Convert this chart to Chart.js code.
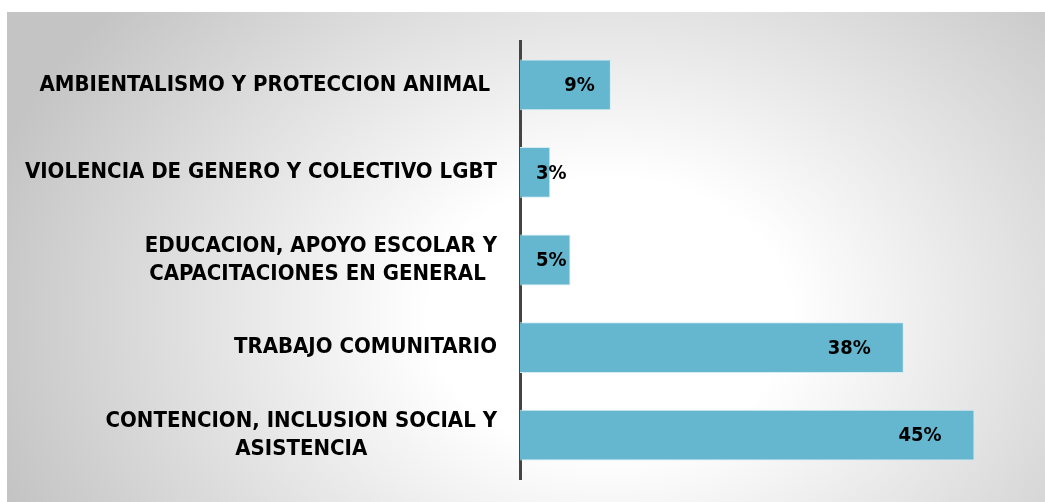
<!DOCTYPE html>
<html>
<head>
<meta charset="utf-8">
<script src="https://cdn.jsdelivr.net/npm/chart.js@4.4.1/dist/chart.umd.min.js"></script>
<style>
    html, body { margin: 0; padding: 0; background: #fff; }
    #wrap { position: relative; width: 1045px; height: 502px; }
    #bg {
        position: absolute; left: 7px; top: 12px; right: 0; bottom: 0;
        background: radial-gradient(ellipse 62% 100% at 58% 62%, #ffffff 28%, #c4c4c4 100%);
    }
    canvas { position: absolute; left: 0; top: 0; }
</style>
</head>
<body>
<div id="wrap">
    <div id="bg"></div>
    <canvas id="chart" width="1045" height="502"></canvas>
</div>
<script>
// Data
const categories = [
    ['AMBIENTALISMO Y PROTECCION ANIMAL '],
    ['VIOLENCIA DE GENERO Y COLECTIVO LGBT'],
    ['EDUCACION, APOYO ESCOLAR Y', 'CAPACITACIONES EN GENERAL '],
    ['TRABAJO COMUNITARIO'],
    ['CONTENCION, INCLUSION SOCIAL Y', 'ASISTENCIA']
];
const values = [9, 3, 5, 38, 45];
const valueLabels = ['9%', '3%', '5%', '38%', '45%'];

const LABEL_FONT = 'bold 22px "DejaVu Sans Condensed", "DejaVu Sans", sans-serif';
const VALUE_FONT = 'bold 20px "DejaVu Sans Condensed", "DejaVu Sans", sans-serif';

// category labels: block right-aligned, lines centered inside block
const categoryLabels = {
    id: 'categoryLabels',
    afterDraw(chart) {
        const ctx = chart.ctx;
        const yScale = chart.scales.y;
        const right = chart.chartArea.left - 23;
        const lineH = 28;
        ctx.save();
        ctx.font = LABEL_FONT;
        ctx.fillStyle = '#000';
        ctx.textAlign = 'center';
        ctx.textBaseline = 'middle';
        categories.forEach((lines, i) => {
            const w = Math.max(...lines.map(l => ctx.measureText(l).width));
            const cx = right - w / 2;
            const cy = yScale.getPixelForValue(i);
            lines.forEach((l, j) => {
                ctx.fillText(l, cx, cy + (j - (lines.length - 1) / 2) * lineH);
            });
        });
        ctx.restore();
    }
};

// value labels inside bar ends
const valueLabelPlugin = {
    id: 'valueLabels',
    afterDatasetsDraw(chart) {
        const ctx = chart.ctx;
        const meta = chart.getDatasetMeta(0);
        ctx.save();
        ctx.font = VALUE_FONT;
        ctx.fillStyle = '#000';
        ctx.textAlign = 'left';
        ctx.textBaseline = 'middle';
        meta.data.forEach((bar, i) => {
            const txt = valueLabels[i];
            const w = ctx.measureText(txt).width;
            const len = bar.x - bar.base;
            let x = bar.x - (len > 200 ? 33 : 16) - w;
            if (x < bar.base + 16) x = bar.base + 16;
            ctx.fillText(txt, x, bar.y + 1);
        });
        ctx.restore();
    }
};

new Chart(document.getElementById('chart'), {
    type: 'bar',
    data: {
        labels: categories,
        datasets: [{
            data: values,
            backgroundColor: '#65b7cf',
            borderColor: '#d3ecf3',
            borderWidth: 1,
            barPercentage: 0.58,
            categoryPercentage: 1
        }]
    },
    options: {
        indexAxis: 'y',
        responsive: false,
        animation: false,
        layout: { padding: { left: 512, top: 41, bottom: 23, right: 20 } },
        scales: {
            x: { display: false, min: 0, max: 50 },
            y: {
                grid: { display: false },
                ticks: { display: false },
                border: { display: true, color: '#444', width: 3 }
            }
        },
        plugins: {
            legend: { display: false },
            tooltip: { enabled: false }
        }
    },
    plugins: [categoryLabels, valueLabelPlugin]
});
</script>
</body>
</html>
